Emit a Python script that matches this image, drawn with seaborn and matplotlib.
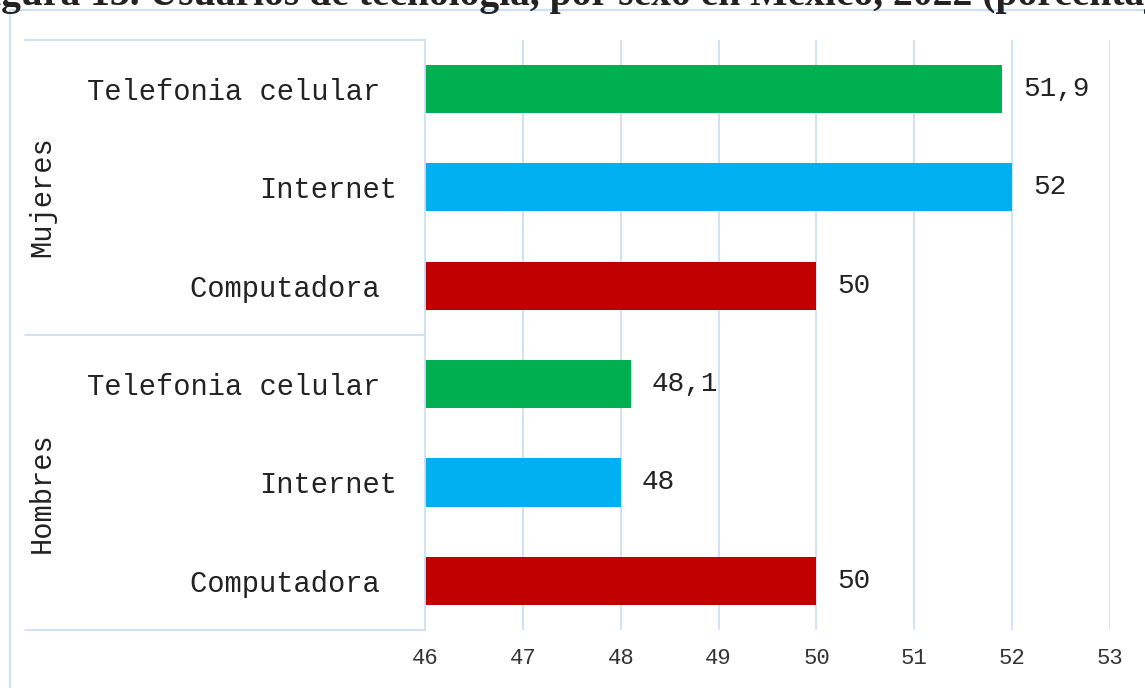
"""Usuarios de tecnología por sexo en México, 2022 (barras horizontales)."""
import matplotlib.patches as mpatches
import matplotlib.pyplot as plt
import pandas as pd
import seaborn as sns

grupos = ["Mujeres", "Mujeres", "Mujeres", "Hombres", "Hombres", "Hombres"]
tecnologias = ["Telefonia celular", "Internet", "Computadora"] * 2
porcentajes = [51.9, 52, 50, 48.1, 48, 50]
etiquetas_y = ["Telefonia celular ", "Internet", "Computadora "] * 2
colores = {"Telefonia celular": "#00B050", "Internet": "#00B0F0", "Computadora": "#C00000"}
ticks_x = [46, 47, 48, 49, 50, 51, 52, 53]
titulo = "Figura 13. Usuarios de tecnología, por sexo en México, 2022 (porcentaje)"

AZUL_CLARO = "#cddff4"

df = pd.DataFrame({"grupo": grupos, "tecnologia": tecnologias, "porcentaje": porcentajes})
df["fila"] = df["grupo"] + " / " + df["tecnologia"]

sns.set_theme(style="white")
plt.rcParams["font.family"] = ["Liberation Mono", "DejaVu Sans Mono"]

fig = plt.figure(figsize=(11.45, 6.88), dpi=100)
ax = fig.add_axes([0.3712, 0.0843, 0.5983, 0.858])

sns.barplot(
    data=df, x="porcentaje", y="fila", hue="tecnologia", palette=colores,
    saturation=1, dodge=False, width=0.49, legend=False, linewidth=0, ax=ax,
)

ax.set_xlim(46, 53)
ax.set_xticks(ticks_x)
ax.set_ylim(5.5, -0.5)
ax.set_yticks(range(len(etiquetas_y)))
ax.set_yticklabels(etiquetas_y)
ax.set_xlabel("")
ax.set_ylabel("")
ax.tick_params(axis="y", length=0, pad=20, labelsize=20.7, labelcolor="#222222")
ax.tick_params(axis="x", length=0, pad=13, labelsize=16, labelcolor="#333333")

ax.set_axisbelow(True)
ax.grid(axis="x", color=AZUL_CLARO, linewidth=1.3)
ax.grid(axis="y", visible=False)
for lado in ["top", "right", "bottom"]:
    ax.spines[lado].set_visible(False)
ax.spines["left"].set_color(AZUL_CLARO)
ax.spines["left"].set_linewidth(1.3)

for cont in ax.containers:
    ax.bar_label(cont, fmt=lambda v: f"{v:g}".replace(".", ","), padding=15,
                 fontsize=20, color="#222222")

# tabla de categorías a la izquierda
trans = ax.get_yaxis_transform()
for y in [-0.5, 2.5, 5.5]:
    ax.plot([-0.584, 0], [y, y], transform=trans, color=AZUL_CLARO,
            linewidth=1.3, clip_on=False)
for grupo, y in [("Mujeres", 1.1), ("Hombres", 4.1)]:
    ax.text(-0.559, y, grupo, transform=trans, rotation=90, ha="center",
            va="center", fontsize=20.7, color="#222222")

# marco exterior del gráfico
fig.patches.append(mpatches.Rectangle(
    (0.009, -0.05), 1.1, 1.05 - 10 / 688, transform=fig.transFigure,
    fill=False, edgecolor=AZUL_CLARO, linewidth=1.5,
))

# título recortado por el borde superior, como en la imagen original
fig.text(-0.030, 1 - 5 / 688, titulo, family="Liberation Serif", weight="bold",
         fontsize=28.5, va="baseline", color="#222222")

fig.savefig("out.png", dpi=100)
